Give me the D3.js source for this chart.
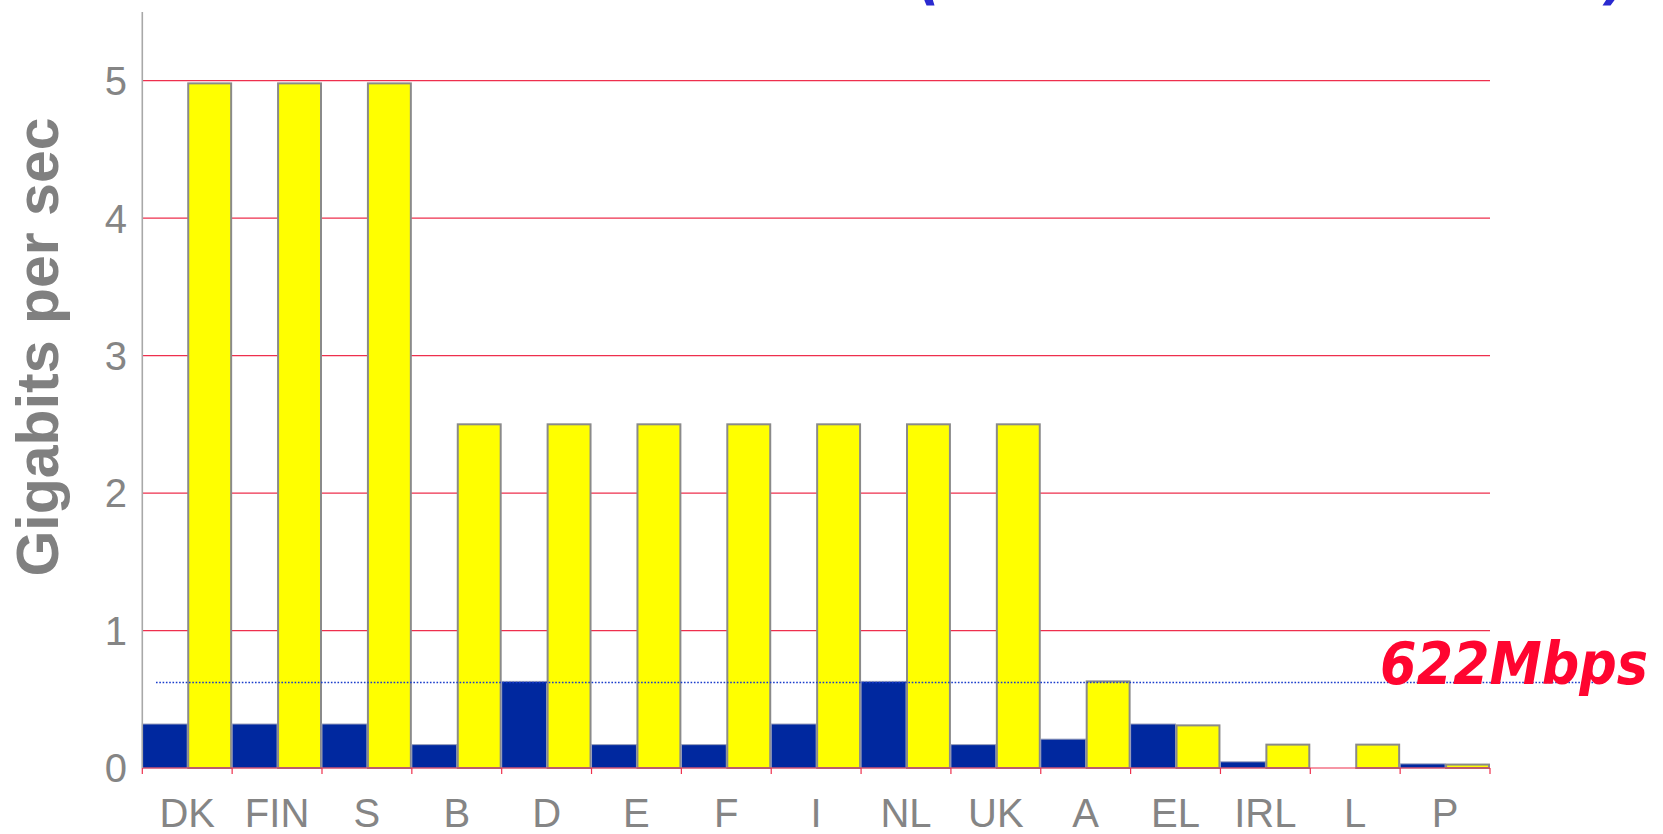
<!DOCTYPE html>
<html>
<head>
<meta charset="utf-8">
<script src="https://cdn.jsdelivr.net/npm/d3@7"></script>
<style>
  html, body { margin: 0; padding: 0; background: #ffffff; }
  svg { display: block; }
</style>
</head>
<body>
<svg id="chart" width="1663" height="834"></svg>
<script>
// ---- data ----
const categories = ["DK", "FIN", "S", "B", "D", "E", "F", "I", "NL", "UK", "A", "EL", "IRL", "L", "P"];
const seriesBlue = [0.32, 0.32, 0.32, 0.17, 0.63, 0.17, 0.17, 0.32, 0.63, 0.17, 0.21, 0.32, 0.045, 0, 0.03];
const seriesYellow = [4.98, 4.98, 4.98, 2.5, 2.5, 2.5, 2.5, 2.5, 2.5, 2.5, 0.63, 0.31, 0.17, 0.17, 0.025];
const yTicks = [0, 1, 2, 3, 4, 5];
const refValue = 0.622;
const refLabel = "622Mbps";
const yTitle = "Gigabits per sec";

// ---- layout ----
const svg = d3.select("#chart");
const x0 = 142.3, x1 = 1490, yBase = 768, yTop = 11.9;

const x = d3.scaleBand().domain(categories).range([x0, x1]).paddingInner(0).paddingOuter(0);
const sub = d3.scaleBand().domain(["blue", "yellow"]).range([0, x.bandwidth()]).padding(0);
const y = d3.scaleLinear().domain([0, 5.5]).range([yBase, yTop]);

const grid = "#ee2f4d";

// title fragment at the top edge (only bottom of parentheses visible, as in the reference)
const titleG = svg.append("g");
titleG.append("text").attr("x", 918).attr("y", -2)
  .attr("font-family", "DejaVu Sans").attr("font-weight", "bold").attr("font-style", "italic")
  .attr("font-size", 56).attr("fill", "#2a2ad0").text("(");
titleG.append("text").attr("x", 1604).attr("y", -2)
  .attr("font-family", "DejaVu Sans").attr("font-weight", "bold").attr("font-style", "italic")
  .attr("font-size", 56).attr("fill", "#2a2ad0").text(")");

// gridlines
svg.append("g").selectAll("line").data(yTicks.filter(d => d > 0)).join("line")
  .attr("x1", x0).attr("x2", x1)
  .attr("y1", d => y(d)).attr("y2", d => y(d))
  .attr("stroke", grid).attr("stroke-width", 1.2);

// bars
const groups = svg.append("g").selectAll("g").data(categories).join("g")
  .attr("transform", d => `translate(${x(d)},0)`);

groups.append("rect")
  .attr("x", sub("blue"))
  .attr("width", sub.bandwidth())
  .attr("y", (d, i) => y(seriesBlue[i]))
  .attr("height", (d, i) => yBase - y(seriesBlue[i]))
  .attr("fill", "#00289f")
  .attr("stroke", (d, i) => seriesBlue[i] > 0 ? "#9aa0bc" : "none")
  .attr("stroke-width", 1);

groups.append("rect")
  .attr("x", sub("yellow") + 1)
  .attr("width", sub.bandwidth() - 2)
  .attr("y", (d, i) => y(seriesYellow[i]))
  .attr("height", (d, i) => yBase - y(seriesYellow[i]))
  .attr("fill", "#ffff00")
  .attr("stroke", "#8a8a8a")
  .attr("stroke-width", 2);

// x axis baseline and ticks (red)
svg.append("line").attr("x1", x0).attr("x2", x1).attr("y1", yBase).attr("y2", yBase)
  .attr("stroke", grid).attr("stroke-width", 1.2);
const boundaries = categories.map(c => x(c)).concat([x1]);
svg.append("g").selectAll("line").data(boundaries).join("line")
  .attr("x1", d => d).attr("x2", d => d)
  .attr("y1", yBase).attr("y2", yBase + 6)
  .attr("stroke", grid).attr("stroke-width", 1.2);

// y axis line (gray)
svg.append("line").attr("x1", x0).attr("x2", x0).attr("y1", y(5.5)).attr("y2", yBase)
  .attr("stroke", "#a8a8a8").attr("stroke-width", 1.6);

// y tick labels
svg.append("g").selectAll("text").data(yTicks).join("text")
  .attr("x", 127).attr("y", d => y(d)).attr("dy", "0.36em")
  .attr("text-anchor", "end")
  .attr("font-family", "Liberation Sans, Arial, sans-serif")
  .attr("font-size", 40).attr("fill", "#858585")
  .text(d => d);

// x tick labels
svg.append("g").selectAll("text").data(categories).join("text")
  .attr("x", d => x(d) + x.bandwidth() / 2).attr("y", 827)
  .attr("text-anchor", "middle")
  .attr("font-family", "Liberation Sans, Arial, sans-serif")
  .attr("font-size", 40).attr("fill", "#858585")
  .text(d => d);

// y axis title
svg.append("text")
  .attr("transform", "translate(58,347) rotate(-90)")
  .attr("text-anchor", "middle")
  .attr("font-family", "Liberation Sans, Arial, sans-serif")
  .attr("font-weight", "bold").attr("font-size", 59).attr("fill", "#808080")
  .text(yTitle);

// 622 Mbps reference line
svg.append("line")
  .attr("x1", 156).attr("x2", 1603)
  .attr("y1", y(refValue)).attr("y2", y(refValue))
  .attr("stroke", "#1a3ccc").attr("stroke-width", 1.5)
  .attr("stroke-dasharray", "1.6,1.7");

svg.append("text")
  .attr("x", 1380).attr("y", 684)
  .attr("font-family", "DejaVu Sans Condensed, DejaVu Sans, sans-serif")
  .attr("font-weight", "bold").attr("font-style", "italic")
  .attr("font-size", 59).attr("fill", "#ff0530")
  .attr("textLength", 268).attr("lengthAdjust", "spacingAndGlyphs")
  .text(refLabel);
</script>
</body>
</html>
